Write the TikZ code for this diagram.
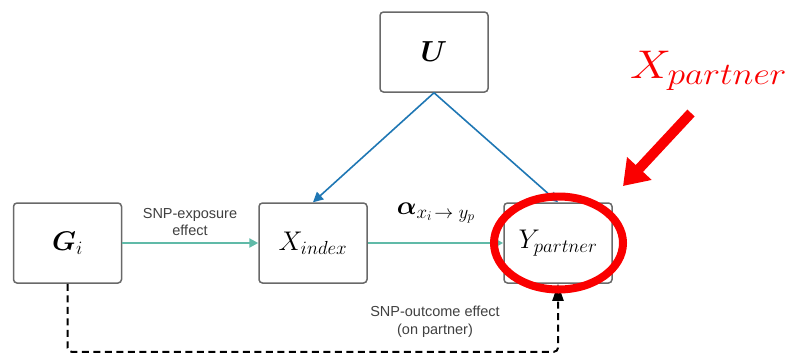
\RequirePackage{fix-cm}
\documentclass[tikz,border=0pt]{standalone}
\usepackage{amsmath,bm}
\usepackage{graphicx}
\usepackage{fontspec}
\setsansfont{Liberation Sans}
\usetikzlibrary{arrows.meta,shapes.geometric,calc}
\definecolor{boxgray}{RGB}{105,105,105}
\definecolor{tealc}{RGB}{96,186,168}
\definecolor{bluec}{RGB}{31,119,180}
\definecolor{labgray}{RGB}{64,64,64}
\definecolor{redc}{RGB}{250,0,0}
\tikzset{
  varbox/.style={draw=boxgray, line width=1.5pt, rounded corners=3.5pt, fill=white,
    minimum width=108pt, minimum height=80pt, inner sep=0pt, font=\fontsize{27}{30}\selectfont},
  tealarrow/.style={draw=tealc, line width=2.5pt, -{Triangle[length=9pt,width=9pt]}},
  bluearrow/.style={draw=bluec, line width=1.6pt, -{Triangle[length=10pt,width=10pt]}},
  dasharrow/.style={draw=black, line width=2pt, dash pattern=on 7pt off 4.5pt, rounded corners=4pt,
    -{Triangle[length=17pt,width=11pt]}},
  efflabel/.style={text=labgray, font=\sffamily\fontsize{14.5}{17.5}\selectfont, align=center, inner sep=0pt},
}
\begin{document}
\begin{tikzpicture}[x=1pt,y=-1pt]
\useasboundingbox (0,0) rectangle (800,357);
% boxes
\node[varbox, font=\fontsize{29}{32}\selectfont] (U) at (434,52) {$\bm{U}$};
\node[varbox] (G) at (67.5,243) {$\bm{G}_{i}$};
\node[varbox] (X) at (313,243) {$X_{index}$};
\node[varbox] (Y) at (558,243) {$Y_{partner}$};
% connectors
\draw[bluearrow] (U.south) -- (X.north);
\draw[bluearrow] (U.south) -- (Y.north);
\draw[tealarrow] (G.east) -- (X.west);
\draw[tealarrow] (X.east) -- (Y.west);
\coordinate (dl) at ($(G.south)+(0,68)$);
\draw[dasharrow] (G.south) -- (dl) -- (dl -| Y.south) -- (Y.south);
% labels
\node[efflabel] (l1) at (190,222) {SNP-exposure\\effect};
\node[efflabel] (l2) at (435,322) {SNP-outcome effect\\(on partner)};
\node[inner sep=0pt, font=\fontsize{26}{28}\selectfont] (al) at (436,213) {$\bm{\alpha}_{\mbox{\fontsize{19}{21}\selectfont$x_i\!\to y_p$}}$};
% red highlight
\node[draw=redc, line width=8pt, ellipse, minimum width=129pt, minimum height=93pt, inner sep=0pt] (E) at (558.5,243) {};
\node[text=redc, anchor=base west, inner sep=0pt, font=\fontsize{40}{44}\selectfont] (XP) at (630,78) {\scalebox{1.15}[1]{$X_{\mbox{\fontsize{31}{33}\selectfont$partner$}}$}};
\coordinate (ra) at (691,113);
\coordinate (rb) at (623,186);
\draw[draw=redc, fill=redc, line width=10pt, -{Triangle[length=24pt,width=32pt]}] (ra) -- (rb);
\end{tikzpicture}
\end{document}
